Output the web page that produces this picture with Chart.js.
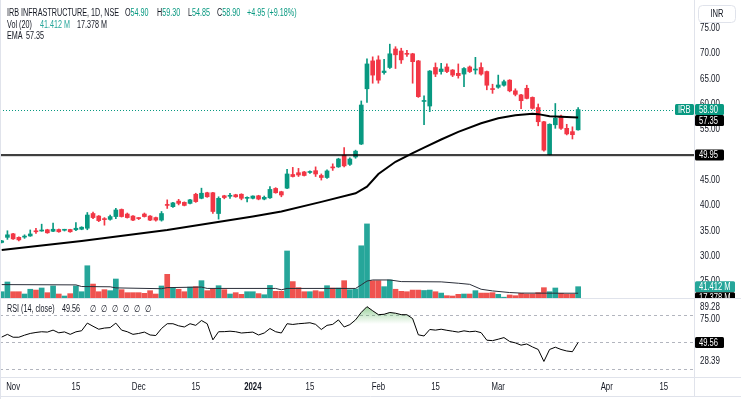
<!DOCTYPE html>
<html>
<head>
<meta charset="utf-8">
<script src="https://cdn.jsdelivr.net/npm/chart.js@4.4.1/dist/chart.umd.min.js"></script>
<style>
  html, body { margin: 0; padding: 0; background: #fff; }
  #wrap { position: relative; width: 741px; height: 399px; overflow: hidden; }
  canvas { position: absolute; left: 0; }
  #main { top: 0; }
  #rsi { top: 298px; }
</style>
</head>
<body>
<div id="wrap">
  <canvas id="main" width="741" height="298"></canvas>
  <canvas id="rsi" width="741" height="101"></canvas>
</div>
<script>
// daily candles, IRB Infrastructure (NSE)
const candleOpen = [
  32.7, 33.7, 34.4, 33.7, 33.75, 33.97, 34.9, 34.95, 35.2, 34.9,
  35.25, 35.1, 35.25, 35.2, 35.3, 35.5, 38.4, 37.9, 37.3, 37.25,
  37.8, 39.2, 38.3, 37.9, 37.5, 38.3, 37.9, 37.6, 37.1, 40.1,
  39.75, 40.85, 40.6, 40.4, 42.2, 41.4, 42.5, 42.5, 38.4, 41.9,
  41.8, 42.1, 42.2, 41.4, 41.4, 41.9, 41.25, 41.5, 43.35, 42.7,
  43.4, 46.1, 46.45, 46.6, 46.5, 46.85, 45.9, 45.5, 47.5, 47.6,
  49.9, 48.1, 49.55, 52.1, 63.0, 68.5, 68.7, 66.2, 67.2, 70.85,
  70.45, 69.95, 69.9, 68.5, 60.5, 59.6, 67.2, 66.4, 67.3, 66.7,
  66.05, 65.9, 67.3, 66.7, 67.2, 66.4, 63.0, 63.3, 63.7, 64.7,
  62.6, 61.8, 63.1, 61.3, 59.3, 56.5, 50.0, 55.9, 57.6, 55.2,
  54.55, 54.9
]
const candleHigh = [
  33.1, 35.0, 34.5, 33.8, 34.2, 35.16, 35.5, 36.3, 35.3, 36.5,
  35.35, 35.3, 35.3, 36.6, 35.8, 38.6, 38.7, 38.0, 37.6, 38.1,
  39.4, 39.3, 38.5, 38.0, 37.6, 38.5, 38.0, 37.7, 38.8, 41.1,
  40.6, 41.2, 40.7, 41.2, 42.4, 43.4, 42.6, 42.6, 41.7, 42.0,
  42.4, 42.2, 42.3, 41.7, 41.9, 42.0, 41.85, 43.7, 43.5, 42.8,
  47.1, 47.5, 47.3, 46.7, 46.8, 47.6, 46.2, 47.0, 48.2, 49.3,
  51.4, 49.4, 50.9, 60.6, 68.9, 69.3, 69.5, 68.8, 71.8, 71.3,
  71.0, 70.6, 70.0, 68.6, 61.6, 66.6, 68.1, 68.0, 67.9, 66.8,
  67.9, 67.2, 67.5, 69.2, 68.1, 66.5, 63.9, 65.7, 64.7, 64.8,
  63.0, 61.9, 63.7, 61.4, 60.0, 56.6, 56.1, 60.1, 57.8, 56.0,
  55.5, 59.3
]
const candleLow = [
  32.6, 33.3, 33.3, 33.0, 33.5, 33.9, 34.5, 34.9, 34.5, 34.8,
  34.7, 34.95, 34.7, 35.0, 35.2, 35.2, 37.4, 36.8, 36.1, 37.1,
  37.4, 37.7, 37.5, 37.0, 37.2, 37.7, 37.0, 36.9, 36.9, 39.4,
  39.6, 40.1, 39.9, 40.3, 40.6, 41.3, 41.6, 38.4, 37.3, 41.3,
  41.4, 41.6, 41.1, 40.7, 41.3, 41.1, 41.1, 41.4, 42.4, 41.7,
  43.3, 45.6, 45.7, 45.8, 46.3, 45.7, 45.0, 45.3, 46.9, 47.5,
  47.6, 47.9, 49.3, 52.0, 60.3, 64.1, 64.1, 65.9, 67.0, 67.0,
  68.0, 69.4, 64.1, 61.3, 55.9, 58.5, 65.4, 65.9, 66.2, 65.4,
  65.1, 63.4, 66.2, 65.9, 65.7, 62.8, 62.1, 63.1, 63.5, 62.4,
  61.6, 59.1, 61.0, 59.0, 55.7, 50.7, 49.95, 55.2, 55.0, 53.9,
  53.1, 54.85
]
const candleClose = [
  33.0, 34.2, 33.4, 33.2, 33.95, 34.37, 34.8, 35.1, 34.6, 35.3,
  34.8, 35.2, 34.8, 35.5, 35.7, 38.1, 37.6, 37.0, 37.2, 37.8,
  39.1, 37.8, 37.6, 37.1, 37.4, 37.8, 37.1, 37.1, 38.4, 40.0,
  40.5, 40.4, 40.0, 41.1, 40.75, 42.4, 41.7, 38.8, 41.4, 41.55,
  41.95, 41.7, 41.4, 41.5, 41.85, 41.25, 41.6, 43.15, 42.5, 42.05,
  46.2, 45.7, 46.0, 45.9, 46.6, 46.2, 45.5, 46.8, 47.4, 49.15,
  47.8, 49.15, 50.7, 59.8, 67.9, 65.7, 64.7, 66.5, 69.9, 69.7,
  68.7, 69.8, 68.35, 61.45, 60.6, 66.5, 65.9, 66.9, 66.4, 65.7,
  65.6, 67.0, 66.4, 66.9, 65.9, 63.7, 62.85, 63.75, 64.4, 62.6,
  61.9, 60.65, 61.1, 59.15, 56.5, 50.9, 56.0, 57.2, 55.2, 54.1,
  53.95, 58.9
]
// volume in millions of shares
const volumeM = [
  23, 58.6, 23, 23, 14.6, 32, 29, 36.6, 19.5, 44,
  14.6, 7.3, 15.9, 44, 23, 118, 51, 23, 30.5, 26.8,
  69.5, 30.5, 19.5, 19.5, 19.5, 17, 26.8, 14.6, 44, 86.6,
  36.6, 32, 23, 40, 41.5, 63.4, 26.8, 33, 45, 30.5,
  14.6, 19.5, 13.4, 23, 23, 16, 12, 46, 24.4, 24.4,
  172, 60, 37.8, 23, 23, 26.8, 23, 45, 36.6, 36.6,
  63.4, 30.5, 33, 191, 271, 63.4, 63.4, 41.5, 66, 32,
  24.4, 23, 29, 29, 27.5, 29, 23, 18, 8.5, 7.3,
  13.4, 14.6, 14.6, 26.8, 18, 18, 19.5, 13.4, 3, 11,
  8.5, 17, 14.6, 14.6, 19.5, 37.8, 23, 36.6, 17, 13.4,
  13.4, 41.412
]
// Vol (20) moving average, read at a few bars
const volSmaIdx = [0, 13, 14, 19, 20, 28, 29, 35, 36, 48, 49, 50, 62, 63, 64, 65, 68, 70, 77, 80, 82, 84, 86, 89, 91, 101]
const volSmaVal = [49, 48, 42, 41, 37, 34, 38, 40, 35, 35, 30, 35, 35, 48, 62, 66, 66, 60, 59, 54, 50, 32, 26, 20, 18, 17.378]
// EMA line, read at a few bars
const emaIdx = [0, 14, 29, 44, 49, 56, 62, 64, 66, 69, 72, 74, 77, 80, 84, 87, 90, 93, 94, 96, 98, 101]
const emaVal = [31.2, 33.0, 35.15, 37.8, 38.8, 40.7, 42.4, 43.7, 46.2, 48.6, 50.3, 51.4, 53.0, 54.5, 56.2, 57.2, 57.8, 58.1, 58.0, 57.6, 57.5, 57.35]
// RSI (14, close), one value per bar
const rsiVal = [
  55.5, 58.5, 55.3, 55.3, 57.6, 59.5, 60.6, 61.4, 61.0, 63.2,
  60.2, 61.2, 58.5, 61.3, 62.5, 71.0, 67.5, 64.2, 65.5, 66,
  71, 63.2, 61.4, 58.5, 59.5, 61, 57.8, 57.2, 65, 70.3,
  70.3, 68, 66.7, 70.3, 68.5, 73.9, 70.3, 52.4, 61.4, 61.5,
  62, 61.4, 60, 60.5, 61, 57.8, 60, 65, 61.4, 60,
  70.3, 69.5, 70.3, 70.8, 71.4, 69.6, 63.9, 68.5, 69.6, 74.6,
  66.7, 69.3, 74.6, 82.9, 89.28, 84.7, 80.4, 80.8, 82.8, 82,
  80.4, 80.3, 76, 58, 56.7, 63.9, 63.2, 64.2, 63, 62,
  61, 62.4, 61.4, 62, 60.4, 52, 51.5, 53.1, 54.9, 50.6,
  49, 46.5, 47.8, 44.5, 41.7, 28.39, 41.7, 44.2, 41.7, 40,
  39.2, 49.56
]
const hLineLevel = 49.95
const priceTicks = [25, 30, 35, 40, 45, 50, 55, 60, 65, 70, 75]
const rsiTicks = [89.28, 75, 28.39]
const rsiBands = [80, 50, 20]
const rsiGradient = [100, 70]
const timeTickIdx = [2, 13, 24, 34, 44, 54, 66, 76, 87, 106, 116]
const timeTickLbl = ["Nov", "15", "Dec", "15", "2024", "15", "Feb", "15", "Mar", "Apr", "15"]

const DARK = "#131722"
const UP = "#089981"
const DOWN = "#f23645"
const VUP = "#26a69a"
const VDOWN = "#ef5350"
const LINE = "#e0e3eb"
const FONT = '"Liberation Sans", Arial, sans-serif'

const last = candleClose.length - 1
const isUp = candleClose.map((c, i) => c >= candleOpen[i])
const candleColors = isUp.map(u => (u ? UP : DOWN))
const volColors = isUp.map(u => (u ? VUP : VDOWN))

// canvas text, squeezed a little to match the narrow UI font
function txt(c, s, x, y, color, size, sx, align, bold) {
  c.save()
  c.font = (bold ? "bold " : "") + size + "px " + FONT
  c.fillStyle = color
  c.textBaseline = "middle"
  c.textAlign = align || "left"
  c.translate(x, y)
  c.scale(sx, 1)
  c.fillText(s, 0, 0)
  const w = c.measureText(s).width * sx
  c.restore()
  return w
}

function box(c, x, y, w, h, fill, stroke, r) {
  c.beginPath()
  if (c.roundRect) c.roundRect(x, y, w, h, r || 0)
  else c.rect(x, y, w, h)
  if (fill) { c.fillStyle = fill; c.fill() }
  if (stroke) { c.strokeStyle = stroke; c.lineWidth = 1; c.stroke() }
}

function tag(c, x, yc, w, bg, s) {
  const h = 11
  box(c, x, yc - h / 2, w, h, bg, null, 1.5)
  txt(c, s, x + 4, yc + 0.5, "#fff", 10, 0.76)
  return yc + h / 2
}

function hline(c, x1, x2, y, color, width, dash) {
  c.save()
  c.strokeStyle = color
  c.lineWidth = width
  if (dash) c.setLineDash(dash)
  c.beginPath()
  c.moveTo(x1, y)
  c.lineTo(x2, y)
  c.stroke()
  c.restore()
}

function vline(c, x, y1, y2, color) {
  c.save()
  c.strokeStyle = color
  c.lineWidth = 1
  c.beginPath()
  c.moveTo(x, y1)
  c.lineTo(x, y2)
  c.stroke()
  c.restore()
}

const fixedAxis = {
  right(s) { s.width = 47; s.paddingTop = 0; s.paddingBottom = 0 },
}

const mainOverlay = {
  id: "mainOverlay",
  afterDatasetsDraw(chart) {
    const c = chart.ctx
    const ys = chart.scales.y
    const a = chart.chartArea
    // last close, dotted
    hline(c, a.left, 674, Math.round(ys.getPixelForValue(candleClose[last])) + 0.5, UP, 1, [1, 2])
    // user horizontal line
    const yl = ys.getPixelForValue(hLineLevel)
    hline(c, a.left, a.right, yl + 1.6, "rgba(0,0,0,0.15)", 1)
    hline(c, a.left, a.right, yl, "#000", 1.6)
  },
  afterDraw(chart) {
    const c = chart.ctx
    const ys = chart.scales.y
    const vs = chart.scales.vol
    const a = chart.chartArea
    vline(c, a.right + 0.5, 0, chart.height, LINE)
    vline(c, 0.5, 0, chart.height, LINE)

    priceTicks.forEach(v => txt(c, v.toFixed(2), 700, ys.getPixelForValue(v), DARK, 10.5, 0.76))

    // legend lines
    const sx = 0.72
    txt(c, "IRB INFRASTRUCTURE, 1D, NSE", 7, 13, DARK, 10, sx)
    const ohlc = [["O", candleOpen[last], 125], ["H", candleHigh[last], 157], ["L", candleLow[last], 188], ["C", candleClose[last], 217]]
    ohlc.forEach(([k, v, x]) => {
      const w = txt(c, k, x, 13, DARK, 10, sx)
      txt(c, v.toFixed(2), x + w, 13, UP, 10, sx)
    })
    const chg = candleClose[last] - candleClose[last - 1]
    txt(c, "+" + chg.toFixed(2) + " (+" + (chg / candleClose[last - 1] * 100).toFixed(2) + "%)", 247, 13, UP, 10, sx)
    txt(c, "Vol (20)", 7, 25, DARK, 10, sx)
    txt(c, volumeM[last].toFixed(3) + " M", 40, 25, VUP, 10, sx)
    txt(c, volSmaVal[volSmaVal.length - 1].toFixed(3) + " M", 77, 25, DARK, 10, sx)
    txt(c, "EMA", 7, 36, DARK, 10, sx)
    txt(c, emaVal[emaVal.length - 1].toFixed(2), 26, 36, DARK, 10, sx)

    // price scale tags
    const yClose = ys.getPixelForValue(candleClose[last])
    box(c, 675, yClose - 5.5, 19, 11, UP, null, 1.5)
    txt(c, "IRB", 678, yClose + 0.5, "#fff", 10, 0.76)
    let bottom = tag(c, 695, yClose, 29, UP, candleClose[last].toFixed(2))
    const emaLast = emaVal[emaVal.length - 1]
    tag(c, 695, Math.max(ys.getPixelForValue(emaLast), bottom + 5.5), 29, "#000", emaLast.toFixed(2))
    tag(c, 695, ys.getPixelForValue(hLineLevel), 29, "#000", hLineLevel.toFixed(2))
    bottom = tag(c, 695, vs.getPixelForValue(volumeM[last]), 40, VUP, volumeM[last].toFixed(3) + " M")
    const smaLast = volSmaVal[volSmaVal.length - 1]
    tag(c, 695, Math.max(vs.getPixelForValue(smaLast), bottom + 5.5), 40, "#000", smaLast.toFixed(3) + " M")

    box(c, 698.5, 5.5, 37, 17, "#fff", LINE, 4)
    txt(c, "INR", 717, 14, DARK, 10, 0.76, "center")
  },
}

new Chart(document.getElementById("main"), {
  type: "bar",
  data: {
    datasets: [
      {
        type: "line",
        label: "EMA",
        data: emaIdx.map((x, i) => ({ x, y: emaVal[i] })),
        yAxisID: "y",
        borderColor: "#000",
        borderWidth: 2,
        pointRadius: 0,
        tension: 0,
        order: 1,
      },
      {
        label: "Body",
        data: candleOpen.map((o, i) => ({ x: i, y: [Math.min(o, candleClose[i]), Math.max(o, candleClose[i])] })),
        yAxisID: "y",
        backgroundColor: candleColors,
        barThickness: 4,
        minBarLength: 1,
        grouped: false,
        borderWidth: 0,
        order: 2,
      },
      {
        label: "Wick",
        data: candleLow.map((l, i) => ({ x: i, y: [l, candleHigh[i]] })),
        yAxisID: "y",
        backgroundColor: candleColors,
        barThickness: 1,
        grouped: false,
        borderWidth: 0,
        order: 3,
      },
      {
        type: "line",
        label: "Vol SMA",
        data: volSmaIdx.map((x, i) => ({ x, y: volSmaVal[i] })),
        yAxisID: "vol",
        borderColor: "#2a2e39",
        borderWidth: 1,
        pointRadius: 0,
        tension: 0,
        order: 4,
      },
      {
        label: "Volume",
        data: volumeM.map((v, i) => ({ x: i, y: v })),
        yAxisID: "vol",
        backgroundColor: volColors,
        barThickness: 5,
        grouped: false,
        borderWidth: 0,
        order: 5,
      },
    ],
  },
  options: {
    responsive: false,
    animation: false,
    devicePixelRatio: 1,
    layout: { padding: 0 },
    plugins: { legend: { display: false }, tooltip: { enabled: false } },
    scales: {
      x: { type: "linear", min: -0.3, max: 121.3, offset: false, display: false },
      y: {
        position: "right",
        min: 21.74,
        max: 80.51,
        grid: { display: false },
        border: { display: false },
        ticks: { display: false },
        afterFit: fixedAxis.right,
      },
      vol: { display: false, min: 0, max: 1090 },
    },
  },
  plugins: [mainOverlay],
})

const rsiOverlay = {
  id: "rsiOverlay",
  beforeDatasetsDraw(chart) {
    const c = chart.ctx
    const xs = chart.scales.x
    const ys = chart.scales.y
    const a = chart.chartArea
    rsiBands.forEach(v => hline(c, a.left, a.right, Math.round(ys.getPixelForValue(v)) + 0.5, "#b2b5be", 1, [3, 3]))
    // overbought gradient fill, green at 100 fading out at 70
    const yTop = ys.getPixelForValue(rsiGradient[0])
    const yBase = ys.getPixelForValue(rsiGradient[1])
    const g = c.createLinearGradient(0, yTop, 0, yBase)
    g.addColorStop(0, "rgba(76,175,80,0.85)")
    g.addColorStop(1, "rgba(76,175,80,0)")
    c.save()
    c.beginPath()
    c.rect(a.left, a.top, a.width, yBase - a.top)
    c.clip()
    c.beginPath()
    c.moveTo(xs.getPixelForValue(0), yBase)
    rsiVal.forEach((v, i) => c.lineTo(xs.getPixelForValue(i), ys.getPixelForValue(v)))
    c.lineTo(xs.getPixelForValue(last), yBase)
    c.closePath()
    c.fillStyle = g
    c.fill()
    c.restore()
  },
  afterDraw(chart) {
    const c = chart.ctx
    const xs = chart.scales.x
    const ys = chart.scales.y
    const a = chart.chartArea
    hline(c, 0, chart.width, 0.5, LINE, 1)
    hline(c, 0, chart.width, a.bottom + 0.5, LINE, 1)
    hline(c, 0, chart.width, chart.height - 2.5, LINE, 1)
    vline(c, a.right + 0.5, 0, chart.height - 3, LINE)
    vline(c, 0.5, 0, chart.height, LINE)

    rsiTicks.forEach(v => txt(c, v.toFixed(2), 700, ys.getPixelForValue(v), DARK, 10.5, 0.76))
    tag(c, 695, ys.getPixelForValue(rsiVal[last]), 29, "#000", rsiVal[last].toFixed(2))

    const sx = 0.72
    txt(c, "RSI (14, close)", 7, 11, DARK, 10, sx)
    txt(c, rsiVal[last].toFixed(2), 62, 11, DARK, 10, sx)
    ;[90, 101, 112, 123, 134, 145].forEach(x => txt(c, "\u2205", x, 11, DARK, 10, sx))

    timeTickIdx.forEach((i, k) => {
      const bold = timeTickLbl[k] === "2024"
      txt(c, timeTickLbl[k], xs.getPixelForValue(i), a.bottom + 10, DARK, 10.5, 0.74, "center", bold)
    })
  },
}

new Chart(document.getElementById("rsi"), {
  type: "line",
  data: {
    datasets: [
      {
        label: "RSI",
        data: rsiVal.map((y, x) => ({ x, y })),
        borderColor: "#000",
        borderWidth: 1,
        pointRadius: 0,
        tension: 0,
      },
    ],
  },
  options: {
    responsive: false,
    animation: false,
    devicePixelRatio: 1,
    layout: { padding: { bottom: 3 } },
    plugins: { legend: { display: false }, tooltip: { enabled: false } },
    scales: {
      x: {
        type: "linear",
        min: -0.3,
        max: 121.3,
        offset: false,
        grid: { display: false },
        border: { display: false },
        ticks: { display: false },
        afterFit(s) { s.height = 19; s.paddingLeft = 0; s.paddingRight = 0 },
      },
      y: {
        position: "right",
        min: 11.1,
        max: 98.9,
        grid: { display: false },
        border: { display: false },
        ticks: { display: false },
        afterFit: fixedAxis.right,
      },
    },
  },
  plugins: [rsiOverlay],
})
</script>
</body>
</html>
